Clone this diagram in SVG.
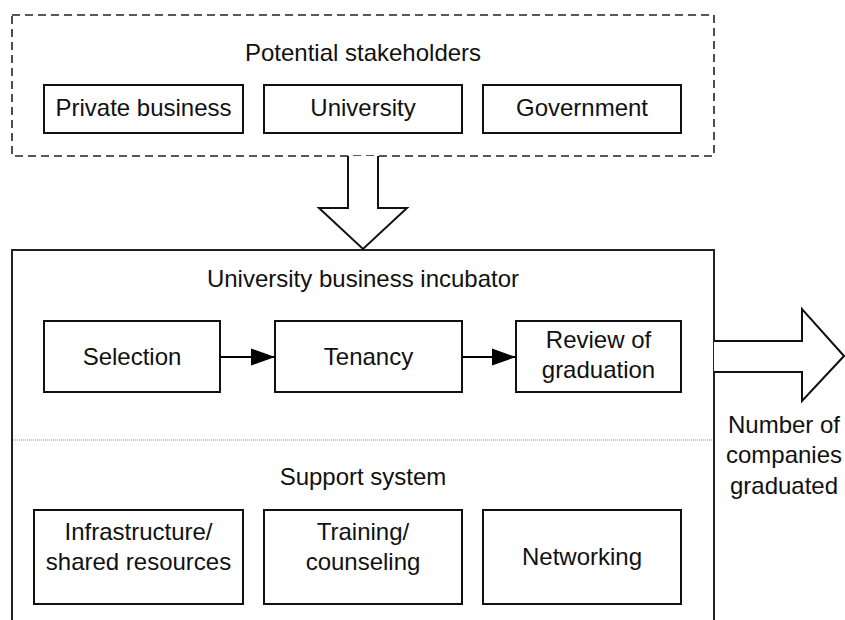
<svg xmlns="http://www.w3.org/2000/svg" width="845" height="620" viewBox="0 0 845 620">
<style>
text{font-family:"Liberation Sans",Arial,sans-serif;font-size:24px;fill:#111;text-anchor:middle}
.box{fill:#fff;stroke:#111;stroke-width:2}
.big{fill:#fff;stroke:#222;stroke-width:2}
</style>
<defs>
<marker id="ah" markerWidth="24" markerHeight="18" refX="24" refY="9" orient="auto" markerUnits="userSpaceOnUse">
<path d="M0,0.5 L24,9 L0,17.5 Z" fill="#000"/>
</marker>
</defs>
<rect width="845" height="620" fill="#fff"/>
<g id="stakeholders">
<rect x="12" y="15" width="702" height="141" fill="none" stroke="#222" stroke-width="1.6" stroke-dasharray="8,5"/>
<text x="363" y="61">Potential stakeholders</text>
</g>
<g id="private"><rect class="box" x="44" y="85" width="199" height="48"/><text x="143.5" y="116">Private business</text></g>
<g id="university"><rect class="box" x="264" y="85" width="198" height="48"/><text x="363" y="116">University</text></g>
<g id="government"><rect class="box" x="483" y="85" width="198" height="48"/><text x="582" y="116">Government</text></g>
<g id="incubator">
<path d="M12,620 V250 H714 V620" fill="#fff" stroke="#222" stroke-width="2"/>
<line x1="13" y1="440" x2="713" y2="440" stroke="#999" stroke-width="1" stroke-dasharray="1,1"/>
<text x="363" y="287">University business incubator</text>
<text x="363" y="485">Support system</text>
</g>
<g id="selection"><rect class="box" x="44" y="321" width="176" height="71"/><text x="132" y="365">Selection</text></g>
<g id="tenancy"><rect class="box" x="275" y="321" width="187" height="71"/><text x="368.5" y="365">Tenancy</text></g>
<g id="review"><rect class="box" x="516" y="321" width="165" height="71"/><text x="598.5" y="348">Review of</text><text x="598.5" y="378">graduation</text></g>
<g id="infrastructure"><rect class="box" x="34" y="510" width="209" height="94"/><text x="138.5" y="540">Infrastructure/</text><text x="138.5" y="570">shared resources</text></g>
<g id="training"><rect class="box" x="264" y="510" width="198" height="94"/><text x="363" y="540">Training/</text><text x="363" y="570">counseling</text></g>
<g id="networking"><rect class="box" x="483" y="510" width="198" height="94"/><text x="582" y="565">Networking</text></g>
<g id="output-label">
<text x="784" y="433">Number of</text>
<text x="784" y="463">companies</text>
<text x="784" y="494">graduated</text>
</g>
<g id="connectors">
<path d="M348,156 V208 H319 L363,249 L407,208 H378 V156" fill="#fff" stroke="#111" stroke-width="2" stroke-linejoin="miter"/>
<path d="M714,341 H802 V309 L844,356 L802,401 V372 H714" fill="#fff" stroke="#111" stroke-width="2"/>
<line x1="220" y1="357" x2="275" y2="357" stroke="#000" stroke-width="2" marker-end="url(#ah)"/>
<line x1="462" y1="357" x2="516" y2="357" stroke="#000" stroke-width="2" marker-end="url(#ah)"/>
</g>
</svg>
